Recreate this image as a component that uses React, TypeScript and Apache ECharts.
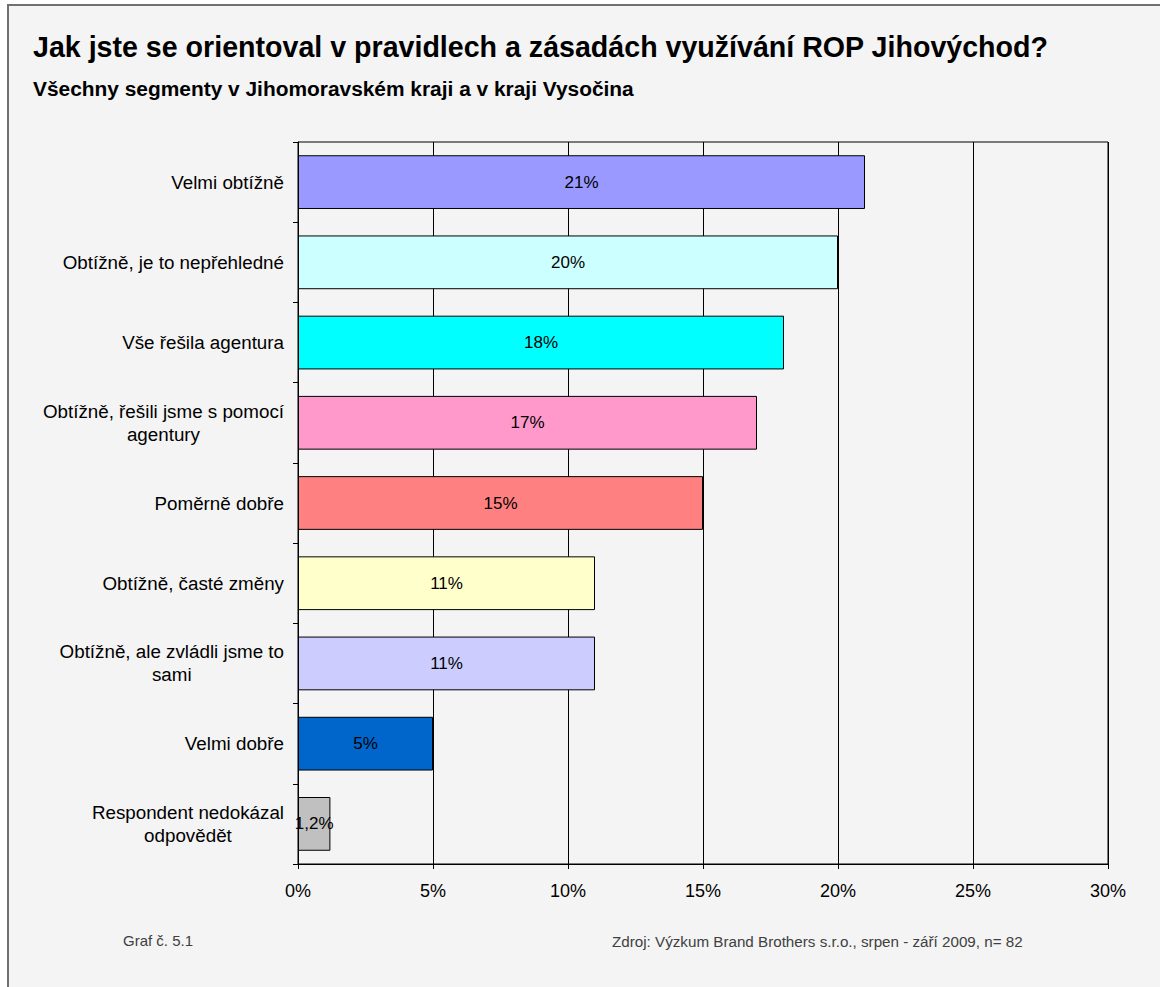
import React, { useEffect, useRef } from "react";
import * as echarts from "echarts";

const titleText = "Jak jste se orientoval v pravidlech a zásadách využívání ROP Jihovýchod?";
const subtitleText = "Všechny segmenty v Jihomoravském kraji a v kraji Vysočina";
const footerLeft = "Graf č. 5.1";
const footerRight = "Zdroj: Výzkum Brand Brothers s.r.o., srpen - září 2009, n= 82";

const categories = [
  "Velmi obtížně",
  "Obtížně, je to nepřehledné",
  "Vše řešila agentura",
  "Obtížně, řešili jsme s pomocí\nagentury",
  "Poměrně dobře",
  "Obtížně, časté změny",
  "Obtížně, ale zvládli jsme to\nsami",
  "Velmi dobře",
  "Respondent nedokázal\nodpovědět",
];
const values = [21, 20, 18, 17, 15, 11, 11, 5, 1.2];
const barColors = [
  "#9999ff",
  "#ccffff",
  "#00ffff",
  "#ff99cc",
  "#ff8080",
  "#ffffcc",
  "#ccccff",
  "#0066cc",
  "#c0c0c0",
];
const xMin = 0;
const xMax = 30;
const xStep = 5;

const FONT = "'Liberation Sans', Arial, sans-serif";

export default function App() {
  const ref = useRef<HTMLDivElement>(null);

  useEffect(() => {
    if (!ref.current) return;
    const chart = echarts.init(ref.current, null, { renderer: "svg" });
    const fmtPct = (v: number) =>
      Number.isInteger(v) ? `${v}%` : `${String(v).replace(".", ",")}%`;

    chart.setOption({
      animation: false,
      backgroundColor: "#ffffff",
      textStyle: { fontFamily: FONT },
      graphic: [
        {
          type: "rect",
          z: -10,
          silent: true,
          shape: { x: 8, y: 5, width: 1200, height: 1100 },
          style: { fill: "#f4f4f4", stroke: "#707070", lineWidth: 2 },
        },
        {
          type: "text",
          x: 123,
          y: 940,
          style: {
            text: footerLeft,
            fill: "#404040",
            fontSize: 15,
            fontFamily: FONT,
            verticalAlign: "middle",
            align: "left",
          },
        },
        {
          type: "text",
          x: 612,
          y: 941,
          style: {
            text: footerRight,
            fill: "#404040",
            fontSize: 15.2,
            fontFamily: FONT,
            verticalAlign: "middle",
            align: "left",
          },
        },
      ],
      title: [
        {
          text: titleText,
          left: 33,
          top: 32,
          padding: 0,
          textStyle: { fontSize: 28.6, fontWeight: "bold", color: "#000", fontFamily: FONT },
        },
        {
          text: subtitleText,
          left: 33,
          top: 78,
          padding: 0,
          textStyle: { fontSize: 20.9, fontWeight: "bold", color: "#000", fontFamily: FONT },
        },
      ],
      grid: {
        left: 298,
        right: 52,
        top: 142,
        bottom: 123,
        show: true,
        borderColor: "#000",
        borderWidth: 1,
        backgroundColor: "transparent",
      },
      xAxis: {
        type: "value",
        min: xMin,
        max: xMax,
        interval: xStep,
        axisLine: { show: true, lineStyle: { color: "#000", width: 1 } },
        axisTick: { show: true, length: 5, lineStyle: { color: "#000" } },
        splitLine: { show: true, lineStyle: { color: "#000", width: 1 } },
        axisLabel: {
          color: "#000",
          fontSize: 18,
          fontFamily: FONT,
          margin: 18,
          formatter: (v: number) => `${v}%`,
        },
      },
      yAxis: {
        type: "category",
        data: categories,
        inverse: true,
        axisLine: { show: true, lineStyle: { color: "#000", width: 1 } },
        axisTick: { show: true, length: 5, alignWithLabel: false, lineStyle: { color: "#000" } },
        splitLine: { show: false },
        axisLabel: {
          margin: 14,
          formatter: (v: string) =>
            v
              .split("\n")
              .map((l) => `{c|${l}}`)
              .join("\n"),
          rich: {
            c: {
              align: "center",
              fontSize: 18.8,
              lineHeight: 23,
              color: "#000",
              fontFamily: FONT,
            },
          },
        },
      },
      series: [
        {
          type: "bar",
          barCategoryGap: "33%",
          data: values.map((v, i) => ({
            value: v,
            itemStyle: { color: barColors[i], borderColor: "#000", borderWidth: 1 },
          })),
          label: {
            show: true,
            position: "inside",
            color: "#000",
            fontSize: 17,
            fontFamily: FONT,
            formatter: (p: any) => fmtPct(p.value),
          },
        },
      ],
    });

    return () => chart.dispose();
  }, []);

  return (
    <div
      ref={ref}
      style={{ position: "absolute", left: 0, top: 0, width: 1160, height: 987 }}
    />
  );
}
